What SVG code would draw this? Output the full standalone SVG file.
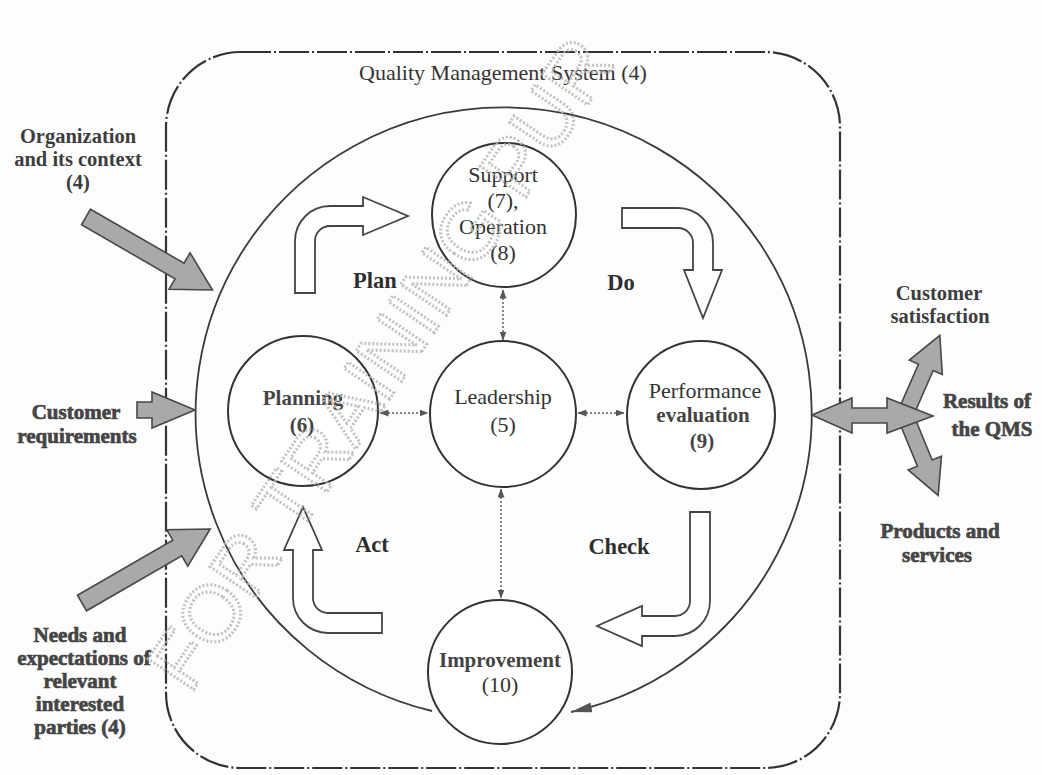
<svg xmlns="http://www.w3.org/2000/svg" width="1042" height="775" viewBox="0 0 1042 775">
  <defs>
    <marker id="bigHead" markerUnits="userSpaceOnUse" markerWidth="22" markerHeight="10" refX="21" refY="5" orient="auto">
      <path d="M0,0 L21,5 L0,10 Z" fill="#555"/>
    </marker>
    <marker id="dotHead" markerUnits="userSpaceOnUse" markerWidth="9" markerHeight="7" refX="8.5" refY="3.5" orient="auto-start-reverse">
      <path d="M0,0 L9,3.5 L0,7 Z" fill="#555"/>
    </marker>
    <style>
      .frame { fill: none; stroke: #333; stroke-width: 2.2; stroke-dasharray: 30 3 2 3; }
      .cycle { fill: none; stroke: #3a3a3a; stroke-width: 1.8; }
      .node { fill: #fff; stroke: #333; stroke-width: 2; }
      .phase { fill: #fff; stroke: #444; stroke-width: 1.8; stroke-linejoin: miter; }
      .dot { fill: none; stroke: #555; stroke-width: 1.4; stroke-dasharray: 2 2; marker-start: url(#dotHead); marker-end: url(#dotHead); }
      .grey { fill: #a9a9a9; stroke: #474747; stroke-width: 1.6; stroke-linejoin: miter; }
      .lbl { font-family: "Liberation Serif", "DejaVu Serif", serif; font-size: 22px; fill: #333; text-anchor: middle; }
      .lblb { font-family: "Liberation Serif", "DejaVu Serif", serif; font-size: 21px; font-weight: bold; fill: #444; text-anchor: middle; }
      .phasel { font-family: "Liberation Serif", "DejaVu Serif", serif; font-size: 22.5px; font-weight: bold; fill: #2e2e2e; text-anchor: middle; }
      .side { font-family: "Liberation Serif", "DejaVu Serif", serif; font-size: 20.5px; font-weight: bold; fill: #3d3d3d; text-anchor: middle; }
      .heavy { font-family: "Liberation Serif", "DejaVu Serif", serif; font-size: 21px; font-weight: bold; fill: #454545; stroke: #454545; stroke-width: 0.7; text-anchor: middle; }
      .wm { font-family: "Liberation Sans", Arial, sans-serif; font-size: 80px; fill: none; stroke: #b8b8b8; stroke-width: 3; stroke-dasharray: 2 2; }
    </style>
  </defs>

  <rect width="1042" height="775" fill="#fdfdfd"/>

  <g id="qms-frame">
    <rect class="frame" x="166" y="52" width="674" height="716" rx="75" ry="75"/>
    <text class="lbl" x="503" y="80">Quality Management System (4)</text>
  </g>

  <g id="connectors">
    <path id="cycle" class="cycle" d="M432,711 A308 306 0 1 1 571,712" marker-end="url(#bigHead)"/>
    <line class="dot" x1="503" y1="290" x2="503" y2="340"/>
    <line class="dot" x1="380" y1="413" x2="428" y2="413"/>
    <line class="dot" x1="578" y1="413" x2="624" y2="413"/>
    <line class="dot" x1="501" y1="489" x2="501" y2="598"/>
  </g>

  <g id="phase-arrows">
    <path id="plan-arrow" class="phase" d="M295,293 L295,241 A35 35 0 0 1 330,206 L363,206 L363,197 L408,216 L363,235 L363,226 L330,226 A15 15 0 0 0 315,241 L315,293 Z"/>
    <path id="do-arrow" class="phase" d="M622,208 L678,208 A35 35 0 0 1 713,243 L713,270 L722,270 L703,318 L684,270 L693,270 L693,243 A15 15 0 0 0 678,228 L622,228 Z"/>
    <path id="check-arrow" class="phase" d="M690,512 L710,512 L710,601 A35 35 0 0 1 675,636 L642,636 L642,646 L597,626 L642,606 L642,616 L675,616 A15 15 0 0 0 690,601 Z"/>
    <path id="act-arrow" class="phase" d="M382,613 L328,613 A15 15 0 0 1 313,598 L313,550 L322,550 L303,507 L284,550 L293,550 L293,598 A35 35 0 0 0 328,633 L382,633 Z"/>
    <text class="phasel" x="375" y="288">Plan</text>
    <text class="phasel" x="621" y="290">Do</text>
    <text class="phasel" x="372" y="552">Act</text>
    <text class="phasel" x="619" y="554">Check</text>
  </g>

  <g id="node-support">
    <circle class="node" cx="504" cy="215" r="72"/>
    <text class="lbl" x="503" y="182">Support</text>
    <text class="lbl" x="503" y="208">(7),</text>
    <text class="lbl" x="503" y="234">Operation</text>
    <text class="lbl" x="503" y="260">(8)</text>
  </g>

  <g id="node-planning">
    <circle class="node" cx="303" cy="411" r="75"/>
    <text class="lblb" x="303" y="405">Planning</text>
    <text class="lblb" x="302" y="432">(6)</text>
  </g>

  <g id="node-leadership">
    <circle class="node" cx="503" cy="414" r="73"/>
    <text class="lbl" x="503" y="404">Leadership</text>
    <text class="lbl" x="503" y="432">(5)</text>
  </g>

  <g id="node-performance">
    <circle class="node" cx="701" cy="415" r="74"/>
    <text class="lbl" x="705" y="398">Performance</text>
    <text class="lblb" x="703" y="422">evaluation</text>
    <text class="lblb" x="702" y="448">(9)</text>
  </g>

  <g id="node-improvement">
    <circle class="node" cx="500" cy="672" r="72"/>
    <text class="lblb" x="500" y="667">Improvement</text>
    <text class="lbl" x="500" y="692">(10)</text>
  </g>

  <g id="input-organization">
    <path class="grey" transform="translate(86,217) rotate(30)" d="M0,-9 L108,-9 L108,-21 L146,0 L108,21 L108,9 L0,9 Z"/>
    <text class="side" x="78" y="143">Organization</text>
    <text class="side" x="78" y="166">and its context</text>
    <text class="side" x="78" y="189">(4)</text>
  </g>

  <g id="input-customer-requirements">
    <path class="grey" d="M137,402 L152,402 L152,392 L195,410 L152,428 L152,418 L137,418 Z"/>
    <text class="heavy" x="76" y="419">Customer</text>
    <text class="heavy" x="77" y="443">requirements</text>
  </g>

  <g id="input-needs">
    <path class="grey" transform="translate(82,603) rotate(-30)" d="M0,-9 L110,-9 L110,-21 L148,0 L110,21 L110,9 L0,9 Z"/>
    <text class="heavy" x="80" y="642">Needs and</text>
    <text class="heavy" x="84" y="665">expectations of</text>
    <text class="heavy" x="80" y="688">relevant</text>
    <text class="heavy" x="80" y="711">interested</text>
    <text class="heavy" x="80" y="734">parties (4)</text>
  </g>

  <g id="output-results">
    <path class="grey" transform="translate(905,415) rotate(-66.4)" d="M0,-8 L52,-8 L52,-18 L87,0 L52,18 L52,8 L0,8 Z"/>
    <path class="grey" transform="translate(905,415) rotate(67.6)" d="M0,-8 L52,-8 L52,-18 L87,0 L52,18 L52,8 L0,8 Z"/>
    <path class="grey" d="M812,415 L852,398 L852,408 L887,408 L887,398 L933,416 L887,433 L887,423 L852,423 L852,433 Z"/>
    <text class="side" x="939" y="300">Customer</text>
    <text class="side" x="940" y="323">satisfaction</text>
    <text class="heavy" x="987" y="408">Results of</text>
    <text class="heavy" x="992" y="436">the QMS</text>
    <text class="heavy" x="940" y="538">Products and</text>
    <text class="heavy" x="937" y="562">services</text>
  </g>

  <g id="watermark" opacity="0.85">
    <text class="wm" transform="translate(190,695) rotate(-56)">FOR TRAINING PUR</text>
  </g>
</svg>
